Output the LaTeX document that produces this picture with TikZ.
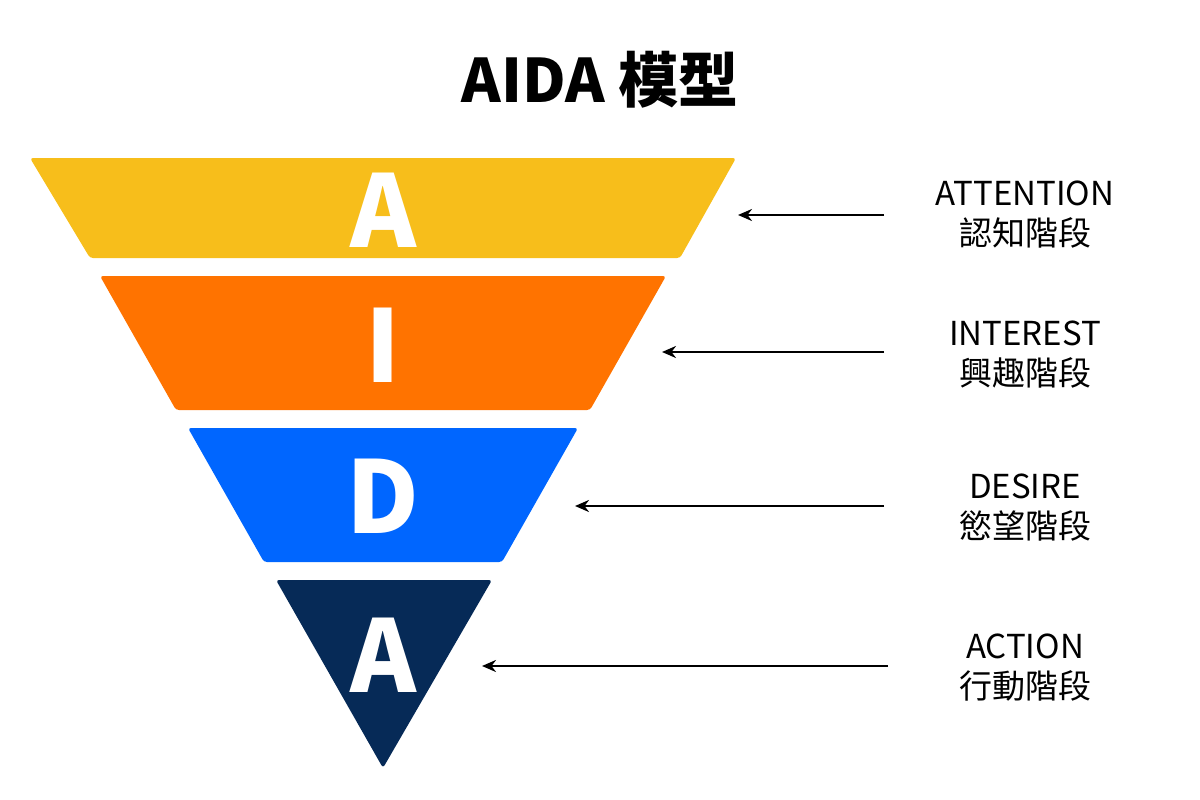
\documentclass[tikz,border=0pt]{standalone}
\usepackage{fontspec}
\setmainfont{Noto Sans CJK TC}
\usetikzlibrary{arrows.meta}
\definecolor{aida_yellow}{RGB}{247, 190, 27}
\definecolor{aida_orange}{RGB}{255, 115, 0}
\definecolor{aida_blue}{RGB}{0, 102, 255}
\definecolor{aida_navy}{RGB}{6, 42, 87}
\tikzstyle{band}=[rounded corners=3pt]
\tikzstyle{letter}=[text=white,font=\fontsize{100}{100}\selectfont\bfseries]
\tikzstyle{stage}=[align=center,font=\fontsize{33}{40}\selectfont]
\tikzstyle{pointer}=[line width=2.5pt,-{Stealth[length=14pt,width=12pt]}]

\begin{document}
\begin{tikzpicture}[x=1pt,y=-1pt]
            \useasboundingbox (0,0) rectangle (1200,800);
            \node [font=\fontsize{60}{60}\selectfont\bfseries] (title) at (600, 80) {AIDA 模型};
            \fill [band,aida_yellow] (30,158) -- (736,158) -- (680,258) -- (90,258) -- cycle;
            \fill [band,aida_orange] (100,276) -- (666,276) -- (590,410) -- (176,410) -- cycle;
            \fill [band,aida_blue] (188,428) -- (578,428) -- (502,562) -- (264,562) -- cycle;
            \fill [band,aida_navy] (276,580) -- (492,580) -- (383,768) -- cycle;
            \node [style=letter] (l1) at (383, 210) {A};
            \node [style=letter] (l2) at (383, 345) {I};
            \node [style=letter] (l3) at (383, 496) {D};
            \node [style=letter] (l4) at (383, 655) {A};
            \node [style=stage] (s1) at (1025, 215) {ATTENTION\\認知階段};
            \node [style=stage] (s2) at (1025, 355) {INTEREST\\興趣階段};
            \node [style=stage] (s3) at (1025, 508) {DESIRE\\慾望階段};
            \node [style=stage] (s4) at (1025, 668) {ACTION\\行動階段};
            \coordinate (t1) at (738, 215);
            \coordinate (t2) at (662, 352);
            \coordinate (t3) at (575, 506);
            \coordinate (t4) at (482, 666);
            \draw [style=pointer] (884, 215) to (t1);
            \draw [style=pointer] (884, 352) to (t2);
            \draw [style=pointer] (884, 506) to (t3);
            \draw [style=pointer] (888, 666) to (t4);
    \end{tikzpicture}
\end{document}
